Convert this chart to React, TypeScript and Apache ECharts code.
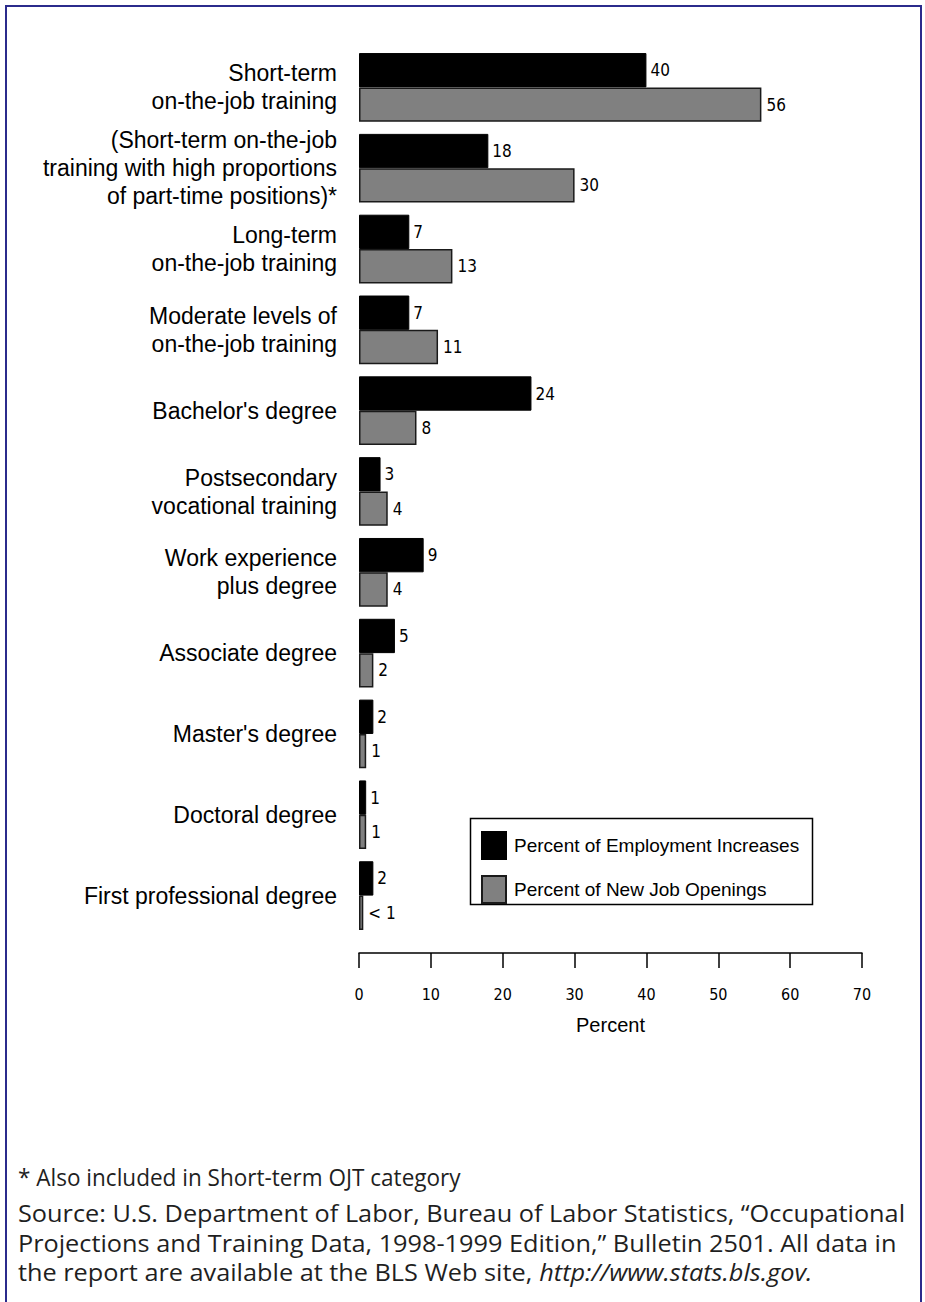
import React, { useEffect, useRef } from "react";
import * as echarts from "echarts";

const categories = [
  "Short-term\non-the-job training",
  "(Short-term on-the-job\ntraining with high proportions\nof part-time positions)*",
  "Long-term\non-the-job training",
  "Moderate levels of\non-the-job training",
  "Bachelor's degree",
  "Postsecondary\nvocational training",
  "Work experience\nplus degree",
  "Associate degree",
  "Master's degree",
  "Doctoral degree",
  "First professional degree",
];

const seriesNames = ["Percent of Employment Increases", "Percent of New Job Openings"];
const employmentIncreases = [40, 18, 7, 7, 24, 3, 9, 5, 2, 1, 2];
const newJobOpenings = [56, 30, 13, 11, 8, 4, 4, 2, 1, 1, 0.6];
const newJobOpeningLabels = ["56", "30", "13", "11", "8", "4", "4", "2", "1", "1", "< 1"];

const axisMin = 0;
const axisMax = 70;
const axisStep = 10;
const axisTitle = "Percent";

const footnote = "* Also included in Short-term OJT category";
const sourceLines = [
  "Source: U.S. Department of Labor, Bureau of Labor Statistics, \u201cOccupational",
  "Projections and Training Data, 1998-1999 Edition,\u201d Bulletin 2501. All data in",
  "the report are available at the BLS Web site, {i|http://www.stats.bls.gov.}",
];

const LABEL_FONT = "'Liberation Sans', Arial, sans-serif";
const NUM_FONT = "'Liberation Sans Narrow', 'DejaVu Sans Condensed', 'Liberation Sans', sans-serif";
const NOTE_FONT = "'Open Sans', 'Liberation Sans', sans-serif";

export default function App() {
  const ref = useRef<HTMLDivElement>(null);

  useEffect(() => {
    if (!ref.current) return;
    const chart = echarts.init(ref.current, null, { renderer: "svg" });

    const noteStyle = (text: string) => ({
      text,
      fontFamily: NOTE_FONT,
      fontSize: 23,
      fill: "#1f1f1f",
      verticalAlign: "middle",
      align: "left",
      rich: { i: { fontStyle: "italic", fontFamily: NOTE_FONT, fontSize: 23, fill: "#1f1f1f" } },
    });

    const noteYs = [1177, 1213, 1243, 1272];
    const noteScales = [0.98, 1.1, 1.1, 1.1];

    const option: any = {
      animation: false,
      backgroundColor: "#ffffff",
      grid: { left: 359, top: 47, width: 503, height: 889, containLabel: false },
      legend: {
        orient: "vertical",
        left: 481,
        top: 831,
        itemWidth: 24,
        itemHeight: 27,
        itemGap: 15,
        icon: "rect",
        padding: 0,
        textStyle: { fontFamily: LABEL_FONT, fontSize: 19, color: "#000", padding: [0, 0, 0, 3] },
        data: seriesNames,
      },
      xAxis: {
        type: "value",
        min: axisMin,
        max: axisMax,
        interval: axisStep,
        offset: 17,
        name: axisTitle,
        nameLocation: "middle",
        nameGap: 62,
        nameTextStyle: { fontFamily: LABEL_FONT, fontSize: 20, color: "#000" },
        axisLine: { show: true, lineStyle: { color: "#000", width: 1.5 } },
        axisTick: { show: true, length: 15, lineStyle: { color: "#000", width: 1.5 } },
        axisLabel: { margin: 33, fontFamily: NUM_FONT, fontSize: 16, color: "#000" },
        splitLine: { show: false },
      },
      yAxis: {
        type: "category",
        inverse: true,
        data: categories,
        axisLine: { show: false },
        axisTick: { show: false },
        axisLabel: {
          margin: 22,
          fontFamily: LABEL_FONT,
          fontSize: 23,
          lineHeight: 28,
          color: "#000",
          align: "right",
        },
      },
      series: [
        {
          name: seriesNames[0],
          type: "bar",
          data: employmentIncreases,
          barGap: "0%",
          barCategoryGap: "15%",
          itemStyle: { color: "#000000", borderColor: "#000000", borderWidth: 1 },
          label: {
            show: true,
            position: "right",
            distance: 4,
            fontFamily: NUM_FONT,
            fontSize: 17,
            color: "#000",
          },
        },
        {
          name: seriesNames[1],
          type: "bar",
          data: newJobOpenings,
          barGap: "0%",
          barCategoryGap: "15%",
          itemStyle: { color: "#808080", borderColor: "#1a1a1a", borderWidth: 1.5 },
          label: {
            show: true,
            position: "right",
            distance: 5,
            fontFamily: NUM_FONT,
            fontSize: 17,
            color: "#000",
            formatter: (p: any) => newJobOpeningLabels[p.dataIndex],
          },
        },
      ],
      graphic: [
        {
          type: "polyline",
          silent: true,
          shape: { points: [[6, 1310], [6, 6], [921, 6], [921, 1310]] },
          style: { stroke: "#2b2b8c", lineWidth: 2, fill: null },
        },
        {
          type: "rect",
          silent: true,
          shape: { x: 470.5, y: 818.5, width: 342, height: 86 },
          style: { stroke: "#000", lineWidth: 1.5, fill: null },
          z: -1,
        },
        ...[footnote, ...sourceLines].map((t, i) => ({
          type: "text",
          silent: true,
          x: 18,
          y: noteYs[i],
          scaleX: noteScales[i],
          style: noteStyle(t),
        })),
      ],
    };

    chart.setOption(option);
    return () => chart.dispose();
  }, []);

  return (
    <div
      ref={ref}
      style={{ position: "absolute", left: 0, top: 0, width: 925, height: 1302, background: "#fff" }}
    />
  );
}
